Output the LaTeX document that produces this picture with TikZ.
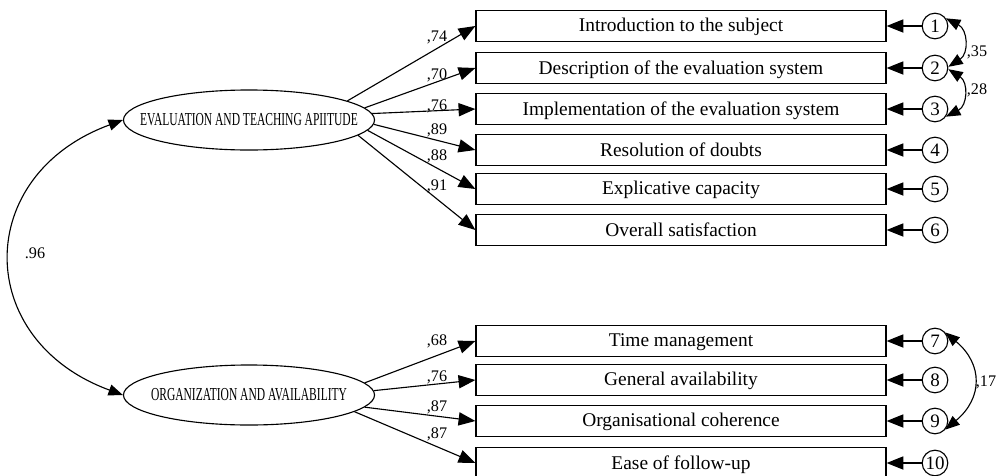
\documentclass[tikz,border=0pt]{standalone}
\usepackage{fontspec}
\setmainfont{Liberation Serif}
\newfontfamily\narrowfont{Liberation Serif}[FakeStretch=0.63]
\usetikzlibrary{shapes.geometric,arrows.meta}
\tikzset{
    obsbox/.style={
        draw, thick, minimum width=10.25cm, minimum height=0.775cm,
        inner sep=0pt, text depth=0.25ex, font=\fontsize{13.8}{15}\selectfont
    },
    latent/.style={
        draw, thick, ellipse, minimum width=6.275cm, minimum height=1.5cm,
        inner sep=0pt, font=\narrowfont\fontsize{13}{14}\selectfont
    },
    errc/.style={
        draw, thick, circle, minimum size=0.64cm, inner sep=0pt,
        font=\fontsize{13.5}{15}\selectfont
    },
    load/.style={-{Triangle[length=4.2mm, width=3.3mm]}, thick},
    covar/.style={{Triangle[length=3.6mm, width=2.8mm]}-{Triangle[length=3.6mm, width=2.8mm]}, thick},
    coef/.style={font=\fontsize{11.5}{12}\selectfont, inner sep=0pt}
}
\newcommand{\lattext}[1]{\makebox[0pt]{#1}}

\begin{document}
\begin{tikzpicture}[x=0.025cm, y=-0.025cm]
    \useasboundingbox (0,0) rectangle (996,475);
    % latent factors
    \node[latent] (eval) at (249,120) {\lattext{EVALUATION AND TEACHING APIITUDE}};
    \node[latent] (orga) at (249,395) {\lattext{ORGANIZATION AND AVAILABILITY}};
    % observed items
    \node[obsbox] (b1) at (681,26) {Introduction to the subject};
    \node[obsbox] (b2) at (681,68) {Description of the evaluation system};
    \node[obsbox] (b3) at (681,109) {Implementation of the evaluation system};
    \node[obsbox] (b4) at (681,150) {Resolution of doubts};
    \node[obsbox] (b5) at (681,189) {Explicative capacity};
    \node[obsbox] (b6) at (681,230) {Overall satisfaction};
    \node[obsbox] (b7) at (681,341) {Time management};
    \node[obsbox] (b8) at (681,380) {General availability};
    \node[obsbox] (b9) at (681,421) {Organisational coherence};
    \node[obsbox] (b10) at (681,463) {Ease of follow-up};
    % error terms
    \node[errc] (e1) at (935,26) {1};
    \node[errc] (e2) at (935,68) {2};
    \node[errc] (e3) at (935,109) {3};
    \node[errc] (e4) at (935,150) {4};
    \node[errc] (e5) at (935,189) {5};
    \node[errc] (e6) at (935,230) {6};
    \node[errc] (e7) at (935,341) {7};
    \node[errc] (e8) at (935,380) {8};
    \node[errc] (e9) at (935,421) {9};
    \node[errc] (e10) at (935,463) {10};
    % loadings
    \draw[load] (eval.11) -- (b1.west);
    \draw[load] (eval.6) -- (b2.west);
    \draw[load] (eval.3) -- (b3.west);
    \draw[load] (eval.-2) -- (b4.west);
    \draw[load] (eval.-5) -- (b5.west);
    \draw[load] (eval.-8) -- (b6.west);
    \draw[load] (orga.6) -- (b7.west);
    \draw[load] (orga.2) -- (b8.west);
    \draw[load] (orga.-6) -- (b9.west);
    \draw[load] (orga.-9) -- (b10.west);
    \node[coef] (l1) at (437,37) {,74};
    \node[coef] (l2) at (437,75) {,70};
    \node[coef] (l3) at (437,106) {,76};
    \node[coef] (l4) at (437,130) {,89};
    \node[coef] (l5) at (437,156) {,88};
    \node[coef] (l6) at (437,186) {,91};
    \node[coef] (l7) at (437,341) {,68};
    \node[coef] (l8) at (437,377) {,76};
    \node[coef] (l9) at (437,407) {,87};
    \node[coef] (l10) at (437,434) {,87};
    % errors to items
    \foreach \i in {1,...,10}
        \draw[load] (e\i) -- (b\i.east);
    % covariances
    \draw[covar] (eval.west) .. controls +(-150,55) and +(-150,-55) .. (orga.west);
    \node[coef] (r1) at (35,253) {.96};
    \draw[covar] (e1.35) to[bend left=60, looseness=1.3] (e2.5);
    \draw[covar] (e2.-5) to[bend left=60, looseness=1.3] (e3.-35);
    \draw[covar] (e7.40) to[bend left=50, looseness=1.3] (e9.-40);
    \node[coef] (r2) at (977,52) {,35};
    \node[coef] (r3) at (977,90) {,28};
    \node[coef] (r4) at (986,382) {,17};
\end{tikzpicture}
\end{document}
